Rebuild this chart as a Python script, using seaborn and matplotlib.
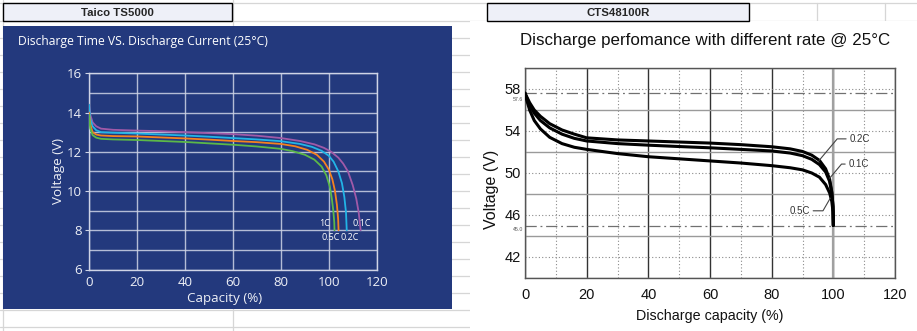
import numpy as np
import pandas as pd
import matplotlib
matplotlib.use("Agg")
import matplotlib.pyplot as plt
import seaborn as sns
from matplotlib.patches import Rectangle
from matplotlib.ticker import MultipleLocator

# ---------------- Left chart (Taico TS5000) ----------------
left_title = "Discharge Time VS. Discharge Current (25°C)"
left_rates = ["0.1C", "0.2C", "0.5C", "1C"]
left_colors = ["#a05aa8", "#22b4e6", "#f5821f", "#5cb848"]

l_x_01 = [0, 0.5, 1.5, 3, 5, 10, 20, 30, 40, 50, 60, 70, 80, 88, 94, 98, 101, 104, 106, 108, 110, 111.5, 112.5, 113.3]
l_y_01 = [14.4, 13.9, 13.5, 13.3, 13.18, 13.12, 13.08, 13.05, 13.0, 12.95, 12.9, 12.82, 12.7, 12.55, 12.38, 12.2, 12.0, 11.7, 11.4, 11.0, 10.3, 9.6, 8.9, 8.0]

l_x_02 = [0, 0.5, 1.5, 3, 5, 10, 20, 30, 40, 50, 60, 70, 80, 88, 93, 97, 100, 102, 104, 105.5, 106.5, 107.2, 107.5]
l_y_02 = [14.4, 13.7, 13.3, 13.1, 13.0, 12.97, 12.93, 12.88, 12.83, 12.77, 12.7, 12.63, 12.54, 12.4, 12.25, 12.05, 11.8, 11.5, 11.0, 10.4, 9.7, 8.9, 8.0]

l_x_05 = [0, 0.5, 1.5, 3, 5, 10, 20, 30, 40, 50, 60, 70, 80, 86, 91, 95, 98, 100, 101.5, 102.6, 103.4, 103.9, 104.1]
l_y_05 = [14.0, 13.4, 13.0, 12.88, 12.83, 12.8, 12.78, 12.73, 12.68, 12.62, 12.55, 12.49, 12.4, 12.28, 12.1, 11.85, 11.5, 11.1, 10.6, 10.0, 9.3, 8.6, 8.0]

l_x_1 = [0, 0.5, 1.5, 3, 5, 10, 20, 30, 40, 50, 60, 70, 80, 85, 90, 94, 97, 99, 100.5, 101.3, 101.9, 102.3, 102.4]
l_y_1 = [13.9, 13.2, 12.85, 12.72, 12.66, 12.63, 12.6, 12.55, 12.5, 12.43, 12.36, 12.27, 12.15, 12.03, 11.85, 11.6, 11.25, 10.8, 10.2, 9.6, 9.0, 8.4, 8.0]

left_xticks = [0, 20, 40, 60, 80, 100, 120]
left_yticks = [6, 8, 10, 12, 14, 16]

# ---------------- Right chart (CTS48100R) ----------------
right_title = "Discharge perfomance with different rate @ 25°C"
right_rates = ["0.2C", "0.1C", "0.5C"]
r_x = [0, 0.5, 1.5, 3, 5, 8, 12, 16, 20, 30, 40, 50, 60, 70, 80, 86, 90, 93, 95.5, 97.5, 98.8, 99.5, 99.9, 100]
r_y_02 = [57.6, 57.3, 56.7, 56.0, 55.4, 54.7, 54.1, 53.7, 53.35, 53.15, 53.05, 52.95, 52.85, 52.7, 52.5, 52.3, 52.05, 51.7, 51.2, 50.4, 49.4, 48.2, 46.8, 45.0]
r_y_01 = [57.6, 57.2, 56.5, 55.7, 55.0, 54.3, 53.7, 53.3, 53.05, 52.8, 52.65, 52.52, 52.4, 52.25, 52.1, 51.9, 51.65, 51.3, 50.8, 50.1, 49.2, 48.1, 46.8, 45.0]
r_y_05 = [57.6, 57.0, 56.0, 55.0, 54.2, 53.4, 52.8, 52.45, 52.25, 51.85, 51.55, 51.35, 51.15, 50.95, 50.7, 50.5, 50.3, 50.0, 49.6, 48.9, 48.1, 47.3, 46.3, 45.0]
right_xticks = [0, 20, 40, 60, 80, 100, 120]
right_yticks = [42, 46, 50, 54, 58]
limit_lines = [57.6, 45.0]

# ---------------- figure ----------------
sns.set_style("white")
plt.rcParams["font.family"] = ["DejaVu Sans"]

fig = plt.figure(figsize=(9.17, 3.31), dpi=100)

# spreadsheet background
bg = fig.add_axes([0, 0, 1, 1])
bg.set_xlim(0, 917)
bg.set_ylim(331, 0)
bg.axis("off")
gridc = "#d6d6d6"
rows = [3, 21] + [37.5 + 17.05 * k for k in range(18)]
for y in rows:
    if y <= 21:
        bg.plot([0, 917], [y, y], color=gridc, lw=0.9, zorder=1)
    else:
        bg.plot([0, 470], [y, y], color=gridc, lw=0.9, zorder=1)
bg.plot([2.7, 2.7], [0, 331], color=gridc, lw=0.9, zorder=1)
bg.plot([233, 233], [0, 331], color=gridc, lw=0.9, zorder=1)
for xx in [817, 885]:
    bg.plot([xx, xx], [3, 21], color=gridc, lw=0.9, zorder=1)
bg.add_patch(Rectangle((470, 21), 447, 310, facecolor="white", edgecolor="none", zorder=1.5))

# header cells
bg.add_patch(Rectangle((3, 3), 229, 18, facecolor="#eef0f8", edgecolor="black", lw=1.0, zorder=3))
bg.text(117.5, 12.5, "Taico TS5000", ha="center", va="center", fontsize=8.2,
        fontweight="bold", family="Liberation Sans", color="#262626", zorder=4)
bg.add_patch(Rectangle((487, 3), 262, 17.5, facecolor="#eef0f8", edgecolor="black", lw=1.0, zorder=3))
bg.text(618, 12.5, "CTS48100R", ha="center", va="center", fontsize=8.2,
        fontweight="bold", family="Liberation Sans", color="#262626", zorder=4)

# left navy panel
panel = "#23397d"
bg.add_patch(Rectangle((3, 26), 449, 283, facecolor=panel, edgecolor="none", zorder=2))
bg.text(18, 42, left_title, ha="left", va="center", fontsize=8.7, family="Open Sans",
        color="white", zorder=4)
bg.text(705, 40, right_title, ha="center", va="center", fontsize=12.2,
        family="Liberation Sans", color="#111111", zorder=4)

# ---------------- left axes ----------------
W, H = 917, 331
axL = fig.add_axes([89 / W, 1 - 269.5 / H, 287.7 / W, 196.2 / H])
axL.set_facecolor(panel)
dfL = pd.concat([
    pd.DataFrame({"cap": l_x_01, "v": l_y_01, "rate": "0.1C"}),
    pd.DataFrame({"cap": l_x_02, "v": l_y_02, "rate": "0.2C"}),
    pd.DataFrame({"cap": l_x_05, "v": l_y_05, "rate": "0.5C"}),
    pd.DataFrame({"cap": l_x_1, "v": l_y_1, "rate": "1C"}),
])
sns.lineplot(data=dfL, x="cap", y="v", hue="rate", hue_order=left_rates,
             palette=left_colors, sort=False, estimator=None, legend=False,
             lw=1.3, ax=axL, zorder=3)
axL.set_xlim(0, 120)
axL.set_ylim(6, 16)
axL.set_xticks(left_xticks)
axL.set_yticks(left_yticks)
axL.yaxis.set_minor_locator(MultipleLocator(1))
lgc = "#cfd4e6"
axL.grid(True, which="both", color=lgc, lw=1.0, alpha=0.85)
for s in axL.spines.values():
    s.set_color(lgc)
    s.set_linewidth(1.0)
axL.tick_params(axis="both", which="major", colors=lgc, labelcolor="#eef0f6",
                labelsize=9.5, length=3, width=0.8, pad=2, left=True, bottom=False)
axL.tick_params(axis="y", which="minor", length=0)
for lab in axL.get_xticklabels() + axL.get_yticklabels():
    lab.set_family("Open Sans")
axL.set_xlabel("Capacity (%)", color="#eef0f6", fontsize=9.6, family="Open Sans")
axL.xaxis.set_label_coords(0.471, -0.115)
axL.set_ylabel("Voltage (V)", color="#eef0f6", fontsize=9.6, family="Open Sans")
axL.yaxis.set_label_coords(-0.084, 0.5)
lab_kw = dict(color="white", fontsize=6.5, family="Open Sans", zorder=5)
axL.text(100.6, 8.35, "1C", ha="right", va="center", **lab_kw)
axL.text(110.0, 8.35, "0.1C", ha="left", va="center", **lab_kw)
axL.text(104.8, 7.65, "0.5C", ha="right", va="center", **lab_kw)
axL.text(104.8, 7.65, "0.2C", ha="left", va="center", **lab_kw)

# ---------------- right axes ----------------
axR = fig.add_axes([525 / W, 1 - 278 / H, 370 / W, 210 / H])
axR.set_facecolor("white")
axR.set_xlim(0, 120)
axR.set_ylim(40, 60)
axR.set_xticks(right_xticks)
axR.set_yticks(right_yticks)
axR.xaxis.set_minor_locator(MultipleLocator(20, offset=10))
axR.yaxis.set_minor_locator(MultipleLocator(4))
axR.grid(False)
axR.grid(True, axis="x", which="major", color="#333333", lw=1.0, zorder=0)
axR.grid(True, axis="x", which="minor", color="#8a8a8a", lw=0.8, ls=(0, (1, 2)), zorder=0)
axR.grid(True, axis="y", which="major", color="#8a8a8a", lw=0.8, ls=(0, (1, 2)), zorder=0)
axR.grid(True, axis="y", which="minor", color="#9a9a9a", lw=1.0, zorder=0)
axR.axvline(100, color="#a0a0a0", lw=1.6, zorder=1)
for yv in limit_lines:
    axR.axhline(yv, color="#707070", lw=0.9, ls=(0, (9, 3, 1.5, 3)), zorder=1)
axR.text(-0.6, limit_lines[0] - 0.35, "57.6", ha="right", va="top", fontsize=3.8,
         family="Liberation Sans", color="#555555")
axR.text(-0.6, limit_lines[1] - 0.15, "45.0", ha="right", va="top", fontsize=3.8,
         family="Liberation Sans", color="#555555")
axR.set_axisbelow(True)
dfR = pd.concat([
    pd.DataFrame({"cap": r_x, "v": r_y_02, "rate": "0.2C"}),
    pd.DataFrame({"cap": r_x, "v": r_y_01, "rate": "0.1C"}),
    pd.DataFrame({"cap": r_x, "v": r_y_05, "rate": "0.5C"}),
])
sns.lineplot(data=dfR, x="cap", y="v", hue="rate", hue_order=right_rates,
             palette=["black"] * 3, sort=False, estimator=None, legend=False,
             lw=2.2, ax=axR, zorder=3)
for s in axR.spines.values():
    s.set_color("#555555")
    s.set_linewidth(1.0)
axR.tick_params(axis="both", which="both", length=0, labelsize=10.5, labelcolor="#111111")
axR.tick_params(axis="x", pad=7)
axR.tick_params(axis="y", pad=3)
for lab in axR.get_xticklabels() + axR.get_yticklabels():
    lab.set_family("Liberation Sans")
axR.set_xlabel("Discharge capacity (%)", fontsize=10.3, family="Liberation Sans", color="#111111")
axR.xaxis.set_label_coords(0.5, -0.148)
axR.set_ylabel("Voltage (V)", fontsize=11.5, family="Liberation Sans", color="#111111")
axR.yaxis.set_label_coords(-0.07, 0.42)

ann_kw = dict(fontsize=7, family="Liberation Sans", color="#333333", va="center",
              arrowprops=dict(arrowstyle="-", color="#444444", lw=0.8,
                              connectionstyle="angle,angleA=0,angleB=50,rad=0",
                              shrinkA=0, shrinkB=0))
axR.annotate("0.2C", xy=(95.4, 51.2), xytext=(105.2, 53.25), ha="left", **ann_kw)
axR.annotate("0.1C", xy=(98.8, 49.5), xytext=(104.9, 50.85), ha="left", **ann_kw)
axR.annotate("0.5C", xy=(99.0, 47.6), xytext=(92.4, 46.4), ha="right",
             fontsize=7, family="Liberation Sans", color="#333333", va="center",
             arrowprops=dict(arrowstyle="-", color="#444444", lw=0.8,
                             connectionstyle="angle,angleA=0,angleB=60,rad=0",
                             shrinkA=0, shrinkB=0))

fig.savefig("out.png", dpi=100)
